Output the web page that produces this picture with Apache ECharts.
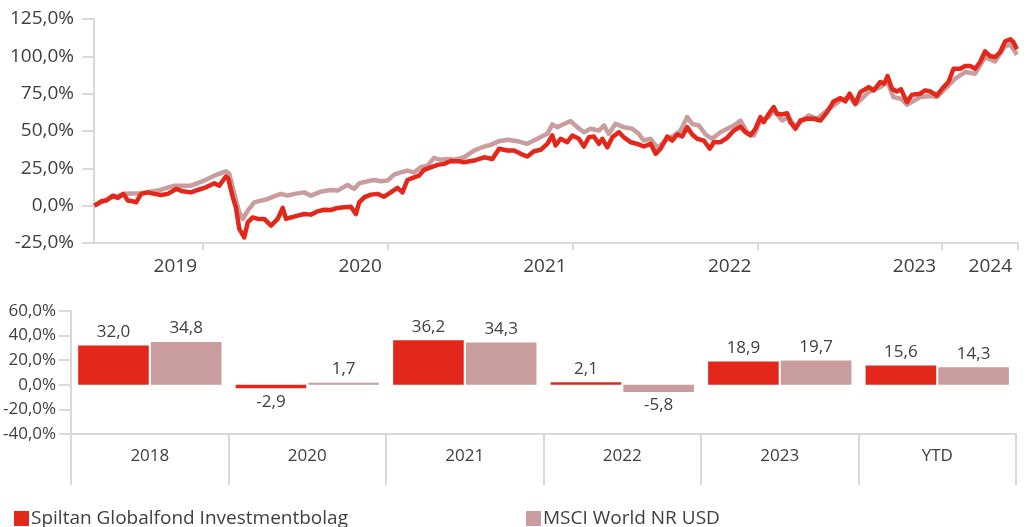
<!DOCTYPE html>
<html>
<head>
<meta charset="utf-8">
<title>Spiltan Globalfond Investmentbolag vs MSCI World</title>
<script src="https://cdn.jsdelivr.net/npm/echarts@6/dist/echarts.min.js"></script>
<style>
    html, body { margin: 0; padding: 0; background: #fff; }
    #chart { width: 1027px; height: 527px; }
</style>
</head>
<body>
<div id="chart"></div>
<script>
const FUND = 'Spiltan Globalfond Investmentbolag'
const MSCI = 'MSCI World NR USD'

// accumulated return, x = decimal year
const fundYears = [2019.412, 2019.449, 2019.476, 2019.512, 2019.539, 2019.569, 2019.593, 2019.620, 2019.638, 2019.665,
    2019.701, 2019.737, 2019.773, 2019.809, 2019.854, 2019.890, 2019.935, 2019.971, 2020.016, 2020.061,
    2020.088, 2020.124, 2020.137, 2020.161, 2020.178, 2020.196, 2020.223, 2020.242, 2020.269, 2020.296,
    2020.331, 2020.368, 2020.404, 2020.431, 2020.449, 2020.476, 2020.512, 2020.548, 2020.584, 2020.620,
    2020.656, 2020.692, 2020.728, 2020.764, 2020.800, 2020.827, 2020.845, 2020.872, 2020.908, 2020.944,
    2020.980, 2021.016, 2021.052, 2021.079, 2021.106, 2021.142, 2021.169, 2021.196, 2021.232, 2021.269,
    2021.304, 2021.341, 2021.385, 2021.412, 2021.466, 2021.521, 2021.566, 2021.602, 2021.647, 2021.683,
    2021.719, 2021.755, 2021.791, 2021.827, 2021.863, 2021.890, 2021.908, 2021.935, 2021.971, 2021.998,
    2022.034, 2022.061, 2022.088, 2022.115, 2022.142, 2022.161, 2022.188, 2022.215, 2022.250, 2022.277,
    2022.314, 2022.350, 2022.385, 2022.422, 2022.449, 2022.476, 2022.512, 2022.539, 2022.566, 2022.593,
    2022.620, 2022.647, 2022.674, 2022.710, 2022.742, 2022.764, 2022.800, 2022.836, 2022.872, 2022.908,
    2022.935, 2022.962, 2022.989, 2023.016, 2023.034, 2023.061, 2023.088, 2023.106, 2023.134, 2023.161,
    2023.178, 2023.205, 2023.232, 2023.269, 2023.304, 2023.341, 2023.377, 2023.412, 2023.449, 2023.476,
    2023.499, 2023.530, 2023.557, 2023.602, 2023.629, 2023.665, 2023.686, 2023.704, 2023.728, 2023.755,
    2023.777, 2023.809, 2023.836, 2023.881, 2023.908, 2023.935, 2023.971, 2024.007, 2024.034, 2024.061,
    2024.097, 2024.124, 2024.151, 2024.178, 2024.205, 2024.232, 2024.259, 2024.286, 2024.314, 2024.341,
    2024.368, 2024.385, 2024.404]
const fundPct = [0, 2.9, 3.4, 6.7, 5.2, 7.9, 3.4, 2.9, 2.2, 7.9,
    8.9, 7.9, 7.2, 7.9, 11.2, 9.6, 8.9, 10.5, 12.3, 15.0,
    13.4, 19.5, 17.9, 5.6, -1.1, -15.6, -21.3, -11.2, -7.9, -8.9,
    -8.9, -13.4, -8.9, -1.5, -8.9, -7.9, -6.7, -5.6, -6.0, -3.8,
    -2.7, -2.9, -1.5, -1.1, -0.7, -5.6, 2.2, 5.6, 7.4, 7.9,
    6.0, 8.9, 11.9, 8.9, 17.2, 19.0, 20.1, 24.0, 25.7, 27.3,
    28.0, 29.9, 29.7, 29.1, 30.2, 32.4, 31.3, 38.1, 36.9, 36.9,
    34.7, 32.9, 36.4, 37.4, 41.4, 47.0, 40.3, 44.8, 42.5, 47.0,
    44.8, 39.6, 45.8, 46.3, 41.4, 44.8, 39.1, 45.8, 49.2, 45.8,
    42.5, 41.4, 39.6, 41.4, 34.7, 38.1, 46.3, 43.6, 47.7, 46.3,
    52.6, 47.7, 44.8, 43.6, 38.1, 42.5, 42.5, 45.4, 50.3, 53.0,
    49.2, 47.0, 51.5, 59.3, 55.9, 61.5, 66.0, 61.5, 61.1, 61.9,
    55.9, 51.5, 57.0, 58.2, 58.2, 57.0, 62.6, 69.8, 72.0, 69.8,
    75.0, 68.3, 76.0, 79.4, 77.2, 82.8, 81.7, 86.8, 78.3, 76.5,
    77.9, 69.3, 74.3, 75.0, 77.2, 76.5, 73.8, 79.4, 82.8, 91.7,
    91.7, 93.5, 93.5, 91.7, 96.2, 103.4, 100.2, 99.5, 102.9, 110.1,
    111.4, 109.6, 104.7]

const msciYears = [2019.412, 2019.485, 2019.575, 2019.665, 2019.755, 2019.845, 2019.935, 2020.007, 2020.061, 2020.124,
    2020.142, 2020.169, 2020.196, 2020.215, 2020.242, 2020.277, 2020.314, 2020.350, 2020.395, 2020.422,
    2020.458, 2020.494, 2020.548, 2020.584, 2020.638, 2020.692, 2020.728, 2020.782, 2020.818, 2020.845,
    2020.890, 2020.926, 2020.962, 2020.998, 2021.034, 2021.070, 2021.106, 2021.142, 2021.178, 2021.215,
    2021.250, 2021.286, 2021.323, 2021.358, 2021.412, 2021.466, 2021.521, 2021.557, 2021.602, 2021.647,
    2021.701, 2021.755, 2021.809, 2021.863, 2021.890, 2021.917, 2021.962, 2021.989, 2022.025, 2022.061,
    2022.097, 2022.142, 2022.169, 2022.196, 2022.232, 2022.277, 2022.323, 2022.358, 2022.385, 2022.422,
    2022.458, 2022.494, 2022.548, 2022.584, 2022.620, 2022.647, 2022.683, 2022.719, 2022.755, 2022.800,
    2022.836, 2022.872, 2022.908, 2022.944, 2022.980, 2023.016, 2023.061, 2023.088, 2023.134, 2023.169,
    2023.205, 2023.242, 2023.277, 2023.323, 2023.377, 2023.449, 2023.499, 2023.530, 2023.602, 2023.665,
    2023.704, 2023.736, 2023.777, 2023.809, 2023.881, 2023.935, 2023.971, 2024.034, 2024.070, 2024.124,
    2024.178, 2024.232, 2024.286, 2024.341, 2024.368, 2024.404]
const msciPct = [0, 4.5, 7.9, 8.3, 10.1, 13.4, 13.4, 16.8, 20.1, 23.0,
    21.3, 7.9, -4.5, -8.9, -3.4, 2.2, 3.4, 4.5, 6.7, 7.9,
    6.7, 7.9, 8.9, 6.7, 9.4, 10.5, 10.1, 13.9, 11.2, 15.0,
    16.3, 17.2, 16.3, 16.8, 20.8, 22.3, 23.5, 22.3, 25.7, 26.8,
    32.0, 30.7, 31.3, 30.7, 32.4, 36.9, 39.6, 40.7, 43.2, 44.1,
    43.2, 41.4, 44.8, 48.1, 54.4, 52.6, 55.2, 56.6, 52.6, 49.2,
    51.5, 50.3, 53.7, 48.1, 54.8, 52.6, 51.5, 48.1, 43.6, 44.8,
    38.7, 42.5, 47.0, 50.3, 59.3, 54.8, 53.7, 47.7, 44.8, 49.2,
    51.5, 53.7, 57.0, 49.2, 47.0, 57.0, 59.3, 63.8, 57.0, 59.3,
    52.6, 57.0, 60.4, 58.2, 63.8, 70.5, 73.0, 67.6, 76.0, 79.4,
    82.8, 72.7, 71.6, 67.6, 72.7, 73.4, 72.7, 80.5, 85.0, 89.5,
    88.4, 99.5, 96.6, 106.9, 107.9, 101.1]

// x axis: ticks at year ends, label sits left of its tick
const yearTicks = [2020, 2021, 2022, 2023, 2024, 2024.41]
const yearLabels = ['2019', '2020', '2021', '2022', '2023', '2024']

// yearly returns
const barCategories = ['2018', '2020', '2021', '2022', '2023', 'YTD']
const fundAnnual = [32.0, -2.9, 36.2, 2.1, 18.9, 15.6]
const msciAnnual = [34.8, 1.7, 34.3, -5.8, 19.7, 14.3]

const RED = '#E3271A'
const PINK = '#C99D9D'
const TEXT = '#404040'
const AXIS = '#D9D9D9'
const FONT = '"Open Sans", sans-serif'

const comma = v => v.toFixed(1).replace('.', ',')

const chart = echarts.init(document.getElementById('chart'))

const barSeries = (name, values, color) => ({
    name: name,
    type: 'bar',
    xAxisIndex: 1,
    yAxisIndex: 1,
    barGap: '3%',
    barCategoryGap: '9%',
    itemStyle: { color: color },
    label: {
        show: true,
        fontSize: 17,
        color: TEXT,
        distance: 5,
        formatter: p => comma(p.value)
    },
    data: values.map(v => ({ value: v, label: { position: v < 0 ? 'bottom' : 'top' } }))
})

const lineSeries = (name, xs, ys, color, z) => ({
    name: name,
    type: 'line',
    xAxisIndex: 0,
    yAxisIndex: 0,
    showSymbol: false,
    z: z,
    itemStyle: { color: color },
    lineStyle: { color: color, width: 4.5, join: 'round' },
    data: xs.map((t, i) => [t, ys[i]])
})

const legendBase = {
    top: 504,
    icon: 'rect',
    itemWidth: 15,
    itemHeight: 15,
    textStyle: { fontSize: 19, color: TEXT, fontFamily: FONT, padding: [0, 0, 0, -3] }
}

const option = {
    animation: false,
    textStyle: { fontFamily: FONT, color: TEXT },
    tooltip: { trigger: 'axis' },
    legend: [
        Object.assign({ left: 9, data: [FUND] }, legendBase),
        Object.assign({ left: 521, data: [MSCI] }, legendBase)
    ],
    grid: [
        { left: 94, top: 19, width: 924, height: 224 },
        { left: 70, top: 311, width: 946, height: 123 }
    ],
    xAxis: [
        {
            type: 'value',
            gridIndex: 0,
            min: 2019.41,
            max: 2024.41,
            splitLine: { show: false },
            axisLine: { onZero: false, lineStyle: { color: AXIS, width: 2 } },
            axisTick: { show: true, length: 7, customValues: yearTicks, lineStyle: { color: AXIS, width: 2 } },
            axisLabel: {
                customValues: yearTicks,
                formatter: v => yearLabels[yearTicks.indexOf(v)],
                align: 'right',
                padding: [0, 6, 0, 0],
                margin: 14,
                fontSize: 19,
                color: TEXT
            }
        },
        {
            type: 'category',
            gridIndex: 1,
            data: barCategories,
            axisLine: { onZero: false, lineStyle: { color: AXIS, width: 2 } },
            axisTick: { show: true, length: 51, interval: 0, lineStyle: { color: AXIS, width: 2 } },
            axisLabel: { margin: 14, fontSize: 17, color: TEXT }
        }
    ],
    yAxis: [
        {
            type: 'value',
            gridIndex: 0,
            min: -25,
            max: 125,
            interval: 25,
            splitLine: { show: false },
            axisLine: { show: true, lineStyle: { color: AXIS, width: 2 } },
            axisTick: { show: true, length: 12, lineStyle: { color: AXIS, width: 2 } },
            axisLabel: { formatter: v => comma(v) + '%', margin: 20, fontSize: 19, color: TEXT }
        },
        {
            type: 'value',
            gridIndex: 1,
            min: -40,
            max: 60,
            interval: 20,
            splitLine: { show: false },
            axisLine: { show: true, lineStyle: { color: AXIS, width: 2 } },
            axisTick: { show: true, length: 12, lineStyle: { color: AXIS, width: 2 } },
            axisLabel: { formatter: v => comma(v) + '%', margin: 15, fontSize: 17, color: TEXT }
        }
    ],
    series: [
        barSeries(FUND, fundAnnual, RED),
        barSeries(MSCI, msciAnnual, PINK),
        lineSeries(MSCI, msciYears, msciPct, PINK, 2),
        lineSeries(FUND, fundYears, fundPct, RED, 3)
    ]
}

chart.setOption(option)
</script>
</body>
</html>
